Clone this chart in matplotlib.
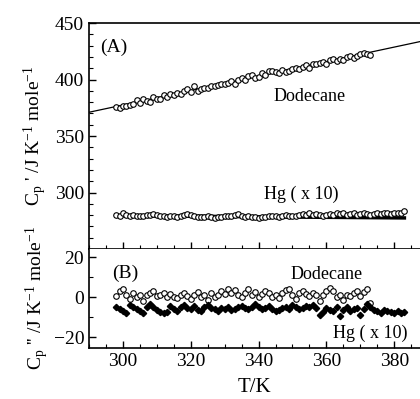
import numpy as np
import matplotlib
matplotlib.use("Agg")
import matplotlib.pyplot as plt
from matplotlib.ticker import MultipleLocator

plt.rcParams.update({
    "font.family": ["Liberation Serif", "DejaVu Serif"],
    "mathtext.default": "regular",
    "font.size": 14,
})

# ---- data ----
T_dod = list(range(298, 374))
dod_A = [375.5, 374.5, 376.5, 377, 377.5, 378.5, 381.5, 379, 382.5, 381, 380, 385, 382.5,
         383, 386, 384.5, 387, 386, 388.5, 387.5, 390, 391.5, 389, 394, 390, 391.5, 392.5,
         393, 394.5, 394.5, 395.5, 396, 396.5,
         397, 399, 396.5, 400, 401.5, 400, 403, 404.5, 401, 402, 406, 404, 407.5, 407.5,
         406.5, 405.5, 408.5, 407, 408, 409.5,
         410.5, 409.5, 411.5, 412.5, 410.5, 414, 413.5, 415, 416, 414, 417, 418.5, 416.5,
         418, 417.5, 420, 420.5, 419.5, 421, 422.5,
         423.5, 422.5, 421.5]
dod_fit_T = [288, 390]
dod_fit = [369.8, 435.2]

T_hg = list(range(298, 384))
hg_A = [280.5, 279.5, 281.5, 280, 279, 280, 279.5, 279.5, 279.5, 280, 280.5, 281, 280,
        279.5, 279, 278.5, 279, 279.5, 278.5, 279, 280, 281, 280, 279, 278.5, 278, 278.5,
        279, 278.5, 277.5, 278, 278.5, 279,
        279.5, 279, 280, 281, 279.5, 278.5, 279, 278.5, 278, 277.5, 278, 278.5, 279, 279.5,
        279, 278, 279, 280, 279.5, 279,
        279.5, 280, 281, 280, 281.5, 280.5, 281, 280, 279.5, 280.5, 281, 280.5, 282, 281,
        281.5, 280.5, 281, 281.5, 280, 281,
        281.5, 281, 280.5, 281, 282, 281, 281.5, 282, 281, 281.5, 281.5, 282, 284]
hg_fit_T = [298, 383]
hg_fit = [279.5, 277.5]

dod_B = [0.5, 3, 4, 1, -1, 2, 0, 1, -2, 1, 2, 3, 0.5,
         1, 2, 0, 1.5, 0, -0.5, 1, 2, 0.5, -1, 1, 2.5, 0, 1, -1.5, 2, 0, 1, 3, 1.5,
         4, 2, 3.5, 1, 0, 2, 4, 1, 2.5, 0, 1.5, 3, 2, 0, 1, -0.5, 2, 3.5, 4, 1,
         -1, 2, 3, 1.5, 0.5, 2, 1, -2, 1, 3, 4.5, 3, 0, 1, -1.5, 1, 0.5, 2, 3, 0.5,
         2.5, 4, -3]
hg_B = [-5, -6, -7, -8, -4, -5, -6, -7, -8, -5, -3.5, -5, -6.5,
        -7.5, -8, -7.5, -4.5, -6, -7, -5, -4, -5.5, -6, -4.5, -6.5, -7, -5, -4, -5.5, -6,
        -7, -5.5, -6,
        -5, -6.5, -6, -5, -4.5, -5.5, -6, -5, -3.5, -5, -6, -5.5, -4.5, -6, -7, -6.5,
        -5.5, -5, -6, -4,
        -5, -6, -5.5, -4.5, -5, -4, -5.5, -9, -7.5, -5.5, -6.5, -7, -5, -9.5, -6.5, -5,
        -7, -6, -5.5, -9,
        -6, -3.5, -5, -6.5, -7, -8, -6.5, -7, -7.5, -8, -7, -8, -7.5]

XLIM = (290, 387.6)

fig = plt.figure(figsize=(4.2, 3.99), dpi=100)
axA = fig.add_axes([0.212, 0.376, 0.788, 0.566])
axB = fig.add_axes([0.212, 0.128, 0.788, 0.248])

for ax in (axA, axB):
    ax.set_xlim(*XLIM)
    ax.spines["right"].set_visible(False)
    ax.xaxis.set_major_locator(MultipleLocator(20))
    ax.xaxis.set_minor_locator(MultipleLocator(5))
    ax.yaxis.set_minor_locator(MultipleLocator(10))
    ax.tick_params(which="both", direction="in", right=False, top=False)
    ax.tick_params(which="major", length=5, width=1.0)
    ax.tick_params(which="minor", length=3, width=0.8)
    for s in ax.spines.values():
        s.set_linewidth(1.2)

# panel A
axA.plot(dod_fit_T, dod_fit, color="black", lw=0.9)
axA.plot(T_dod, dod_A, ls="none", marker="o", ms=4, mfc="white", mec="black", mew=0.8)
axA.plot(hg_fit_T, hg_fit, color="black", lw=2.5)
axA.plot(T_hg, hg_A, ls="none", marker="o", ms=4, mfc="white", mec="black", mew=0.8)
axA.set_ylim(250, 450)
axA.set_yticks([300, 350, 400, 450])
axA.tick_params(axis="x", labelbottom=False)
axA.set_ylabel("C$_p$ ' /J K$^{-1}$ mole$^{-1}$", labelpad=4)
axA.text(0.035, 0.93, "(A)", transform=axA.transAxes, va="top", ha="left")
axA.text(355, 385, "Dodecane", ha="center", va="center", fontsize=13)
axA.text(352.5, 298, "Hg ( x 10)", ha="center", va="center", fontsize=13)

# panel B
axB.plot(T_dod, dod_B, ls="none", marker="o", ms=4, mfc="white", mec="black", mew=0.8)
axB.plot(T_hg, hg_B, ls="none", marker="D", ms=3.2, color="black")
axB.set_ylim(-25.3, 24)
axB.set_yticks([-20, 0, 20])
axB.spines["top"].set_visible(False)
axB.set_ylabel("C$_p$ '' /J K$^{-1}$ mole$^{-1}$", labelpad=2)
axB.set_xlabel("T/K", fontsize=15, labelpad=6)
axB.text(0.07, 0.84, "(B)", transform=axB.transAxes, va="top", ha="left")
axB.text(360, 11.5, "Dodecane", ha="center", va="center", fontsize=13)
axB.text(373, -18, "Hg ( x 10)", ha="center", va="center", fontsize=13)

fig.savefig("out.png", dpi=100)
